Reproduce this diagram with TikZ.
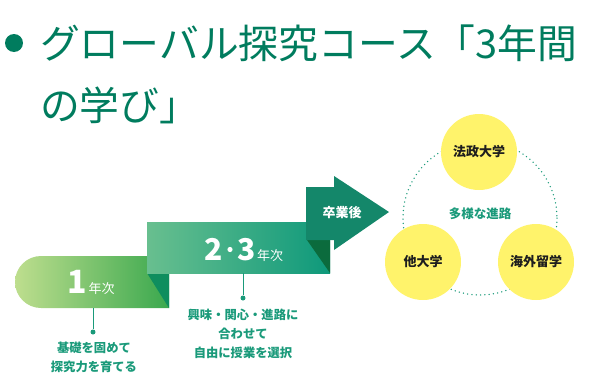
\documentclass[tikz,border=0pt]{standalone}
\usepackage{fontspec}
\setmainfont{Noto Sans CJK JP}
\usetikzlibrary{shapes.geometric}
\definecolor{titlec}{RGB}{0,124,94}
\definecolor{tealc}{RGB}{26,154,122}
\definecolor{bAl}{RGB}{190,222,142}
\definecolor{bAr}{RGB}{58,168,78}
\definecolor{foldA}{RGB}{14,142,94}
\definecolor{bBl}{RGB}{104,191,143}
\definecolor{bBr}{RGB}{14,153,123}
\definecolor{foldB}{RGB}{11,107,61}
\definecolor{arrowc}{RGB}{20,135,106}
\definecolor{yel}{RGB}{255,243,107}
\definecolor{inkc}{RGB}{30,30,30}
\tikzset{
  titletext/.style={anchor=west, inner sep=0pt, text=titlec, font=\fontsize{39.8}{39.8}\selectfont},
  bandtext/.style={anchor=base, inner sep=0pt, text=white},
  conn/.style={draw=tealc, line width=0.8pt},
  dotn/.style={circle, fill=tealc, minimum size=5pt, inner sep=0pt},
  note/.style={align=center, inner sep=0pt, text=tealc, font=\fontsize{12.3}{18.7}\selectfont\bfseries},
  goal/.style={circle, fill=yel, minimum size=76pt, inner sep=0pt, text=inkc, font=\fontsize{13}{13}\selectfont\bfseries},
  ring/.style={draw=tealc, line width=1.5pt, line cap=round, dash pattern=on 0pt off 4.3pt}
}
\begin{document}
\begin{tikzpicture}[x=1pt,y=-1pt]
\useasboundingbox (0,0) rectangle (590,386);
% title
\node[circle, fill=titlec, minimum size=18pt, inner sep=0pt] (bul) at (14,43) {};
\node[titletext] (t1) at (40,43) {グローバル探究コース「3年間};
\node[titletext] (t2) at (40,105) {の学び」};
% band 1
\shade[left color=bAl, right color=bAr] (169,256) -- (169,308) -- (41,308) arc[start angle=90, end angle=270, radius=26] -- cycle;
\fill[foldA] (147,273) -- (169,273) -- (169,308) -- cycle;
% band 2
\shade[left color=bBl, right color=bBr] (147,222) rectangle (330,273);
\fill[foldB] (307,240) -- (330,240) -- (330,273) -- cycle;
% arrow
\fill[arrowc] (306,187) -- (334,187) -- (334,176) -- (389,212) -- (334,250) -- (334,240) -- (306,240) -- cycle;
\node[text=white, inner sep=0pt, font=\fontsize{13}{13}\selectfont\bfseries] (grad) at (342,213) {卒業後};
% band labels
\node[bandtext] (y1) at (91,293) {{\fontsize{32}{32}\selectfont\bfseries 1}\,{\fontsize{13}{13}\selectfont 年次}};
\node[bandtext, anchor=base east] (y2) at (223,260) {{\fontsize{30}{30}\selectfont\bfseries 2}};
\node[bandtext, anchor=base west] (y3) at (237,260) {{\fontsize{30}{30}\selectfont\bfseries 3}\,{\fontsize{13}{13}\selectfont 年次}};
\fill[white] (230,249.5) circle (2.6);
% connectors and notes
\coordinate (b1b) at (93,308);
\node[dotn] (d1) at (93,332) {};
\draw[conn] (b1b) -- (d1);
\node[note, anchor=north] (n1) at (94,342) {基礎を固めて\\探究力を育てる};
\coordinate (b2b) at (243,273);
\node[dotn] (d2) at (243,298) {};
\draw[conn] (b2b) -- (d2);
\node[note, anchor=north] (n2) at (243,309) {興味・関心・進路に\\合わせて\\自由に授業を選択};
% futures
\coordinate (rc) at (480,218);
\draw[ring] (rc) circle (77);
\node[goal] (hosei) at (479,152) {法政大学};
\node[goal] (other) at (423,262) {他大学};
\node[goal] (abroad) at (536,262) {海外留学};
\node[inner sep=0pt, text=tealc, font=\fontsize{12.5}{12.5}\selectfont\bfseries] (paths) at (480,214) {多様な進路};
\end{tikzpicture}
\end{document}
